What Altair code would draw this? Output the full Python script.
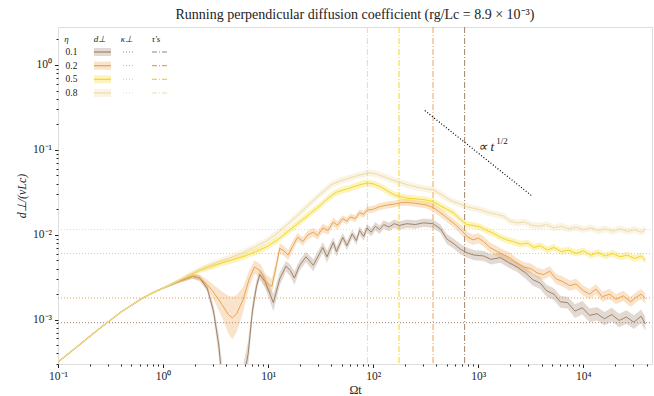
import altair as alt
import numpy as np
import pandas as pd

# ---------------- data ----------------
etas = ["0.1", "0.2", "0.5", "0.8"]
colors = ["#a0846a", "#eba350", "#f5d623", "#eedba6"]
kappa = [9.2e-4, 1.8e-3, 6.0e-3, 1.15e-2]      # horizontal dotted levels
tau = [741, 371, 176, 88]                      # vertical dash-dot times

xtick_vals = [0.1, 1, 10, 100, 1000, 10000]
xtick_labels = ["10⁻¹", "10⁰", "10¹", "10²", "10³", "10⁴"]
ytick_vals = [1e-3, 1e-2, 1e-1, 1]
ytick_labels = ["10⁻³", "10⁻²", "10⁻¹", "10⁰"]

# log10(t), log10(d), log10 half-width of shaded band
lt_01 = [-1.0, -0.8, -0.6, -0.4, -0.2, -0.1, 0.0, 0.15, 0.28, 0.35, 0.42,
         0.48, 0.53, 0.56, 0.60, 0.70, 0.76, 0.81, 0.85, 0.89, 0.92,
         0.97, 1.05, 1.11, 1.17, 1.21, 1.25, 1.30, 1.36, 1.43, 1.52,
         1.56, 1.62, 1.65, 1.71, 1.75, 1.80, 1.84, 1.87, 1.91, 1.94,
         1.98, 2.02, 2.06, 2.10, 2.15, 2.20, 2.25, 2.32, 2.40, 2.48,
         2.57, 2.64, 2.70, 2.76, 2.83, 2.89, 2.96, 3.05, 3.12, 3.21,
         3.29, 3.37, 3.45, 3.52, 3.59, 3.65, 3.72, 3.78, 3.85, 3.92,
         3.99, 4.06, 4.13, 4.20, 4.27, 4.34, 4.41, 4.48, 4.55, 4.59]
ld_01 = [-3.50, -3.30, -3.10, -2.91, -2.75, -2.685, -2.63, -2.55, -2.49, -2.51, -2.63,
         -2.90, -3.30, -3.70, -5.0, -5.0, -3.75, -3.40, -2.90, -2.60, -2.47,
         -2.55, -2.80, -2.52, -2.37, -2.42, -2.51, -2.36, -2.26, -2.36, -2.15,
         -2.26, -2.09, -2.20, -2.03, -2.13, -1.99, -2.07, -1.95, -2.02, -1.92,
         -1.97, -1.90, -1.94, -1.88, -1.91, -1.87, -1.89, -1.87, -1.88, -1.86,
         -1.87, -1.93, -2.05, -2.10, -2.17, -2.21, -2.24, -2.25, -2.29, -2.27,
         -2.33, -2.38, -2.45, -2.53, -2.57, -2.66, -2.70, -2.79, -2.80, -2.90,
         -2.86, -2.95, -2.93, -2.99, -2.94, -3.01, -2.97, -3.03, -2.96, -3.05]
w_01 = [0.01, 0.01, 0.01, 0.01, 0.01, 0.01, 0.01, 0.02, 0.03, 0.03, 0.04,
        0.07, 0.12, 0.20, 0.30, 0.30, 0.20, 0.15, 0.10, 0.07, 0.06,
        0.07, 0.10, 0.08, 0.06, 0.07, 0.08, 0.06, 0.06, 0.07, 0.06,
        0.07, 0.06, 0.06, 0.05, 0.06, 0.05, 0.05, 0.05, 0.05, 0.05,
        0.05, 0.05, 0.05, 0.05, 0.05, 0.05, 0.05, 0.05, 0.05, 0.05,
        0.05, 0.05, 0.06, 0.06, 0.06, 0.06, 0.06, 0.06, 0.06, 0.06,
        0.06, 0.06, 0.07, 0.07, 0.07, 0.07, 0.07, 0.07, 0.07, 0.08,
        0.08, 0.08, 0.08, 0.08, 0.08, 0.08, 0.08, 0.08, 0.08, 0.08]

lt_02 = [-1.0, -0.8, -0.6, -0.4, -0.2, -0.1, 0.0, 0.15, 0.28, 0.35, 0.42,
         0.47, 0.56, 0.62, 0.66, 0.70, 0.76, 0.82, 0.87, 0.93, 0.98,
         1.035, 1.08, 1.11, 1.15, 1.19, 1.24, 1.28, 1.33, 1.38, 1.43,
         1.47, 1.52, 1.57, 1.62, 1.66, 1.71, 1.75, 1.78, 1.83, 1.87,
         1.91, 1.94, 2.00, 2.06, 2.13, 2.20, 2.27, 2.32, 2.40, 2.51,
         2.57, 2.64, 2.70, 2.78, 2.85, 2.90, 2.95, 3.00, 3.05, 3.11,
         3.17, 3.23, 3.30, 3.36, 3.43, 3.50, 3.56, 3.62, 3.68, 3.74,
         3.80, 3.87, 3.93, 4.00, 4.06, 4.12, 4.18, 4.25, 4.31, 4.38,
         4.45, 4.51, 4.55, 4.59]
ld_02 = [-3.50, -3.30, -3.10, -2.91, -2.75, -2.685, -2.63, -2.55, -2.49, -2.51, -2.59,
         -2.66, -2.82, -2.94, -2.98, -2.93, -2.77, -2.52, -2.38, -2.43, -2.56,
         -2.61, -2.35, -2.16, -2.19, -2.24, -2.12, -2.03, -2.08, -2.00, -1.97,
         -2.01, -1.92, -1.95, -1.85, -1.89, -1.81, -1.84, -1.79, -1.81, -1.74,
         -1.76, -1.71, -1.70, -1.67, -1.65, -1.64, -1.62, -1.62, -1.63, -1.65,
         -1.68, -1.74, -1.80, -1.88, -1.96, -2.03, -2.06, -2.04, -2.08, -2.15,
         -2.19, -2.23, -2.27, -2.33, -2.38, -2.40, -2.45, -2.47, -2.43, -2.52,
         -2.55, -2.60, -2.58, -2.66, -2.70, -2.64, -2.73, -2.70, -2.76, -2.72,
         -2.79, -2.73, -2.70, -2.75]
w_02 = [0.01, 0.01, 0.01, 0.01, 0.01, 0.01, 0.01, 0.02, 0.03, 0.04, 0.06,
        0.08, 0.15, 0.22, 0.25, 0.22, 0.15, 0.10, 0.08, 0.08, 0.09,
        0.09, 0.07, 0.06, 0.06, 0.06, 0.06, 0.05, 0.05, 0.05, 0.05,
        0.05, 0.05, 0.05, 0.05, 0.05, 0.04, 0.04, 0.04, 0.04, 0.04,
        0.04, 0.04, 0.04, 0.04, 0.04, 0.04, 0.04, 0.04, 0.04, 0.04,
        0.05, 0.05, 0.05, 0.05, 0.06, 0.06, 0.06, 0.06, 0.06, 0.06,
        0.06, 0.06, 0.06, 0.06, 0.06, 0.06, 0.06, 0.06, 0.06, 0.06,
        0.06, 0.06, 0.06, 0.06, 0.06, 0.06, 0.06, 0.06, 0.06, 0.06,
        0.06, 0.06, 0.06, 0.06]

lt_05 = [-1.0, -0.8, -0.6, -0.4, -0.2, -0.1, 0.0, 0.15, 0.25, 0.35, 0.45,
         0.55, 0.66, 0.78, 0.88, 0.99, 1.10, 1.20, 1.30, 1.40, 1.50,
         1.58, 1.65, 1.72, 1.78, 1.85, 1.94, 2.00, 2.06, 2.13, 2.20,
         2.25, 2.33, 2.42, 2.50, 2.57, 2.64, 2.70, 2.76, 2.83, 2.89,
         2.95, 3.02, 3.08, 3.14, 3.21, 3.27, 3.33, 3.40, 3.47, 3.53,
         3.59, 3.66, 3.72, 3.79, 3.86, 3.93, 4.00, 4.07, 4.14, 4.21,
         4.28, 4.35, 4.42, 4.49, 4.55, 4.59]
ld_05 = [-3.50, -3.30, -3.10, -2.91, -2.75, -2.685, -2.63, -2.54, -2.48, -2.42, -2.375,
         -2.335, -2.295, -2.25, -2.20, -2.14, -2.05, -1.95, -1.85, -1.75, -1.65,
         -1.56, -1.50, -1.47, -1.45, -1.42, -1.39, -1.40, -1.43, -1.48, -1.53,
         -1.55, -1.57, -1.58, -1.59, -1.61, -1.66, -1.70, -1.74, -1.82, -1.88,
         -1.89, -1.91, -1.95, -1.98, -2.03, -2.06, -2.08, -2.11, -2.10, -2.15,
         -2.13, -2.18, -2.15, -2.20, -2.18, -2.22, -2.19, -2.24, -2.21, -2.25,
         -2.22, -2.26, -2.24, -2.28, -2.25, -2.30]
w_05 = [0.01, 0.01, 0.01, 0.01, 0.01, 0.01, 0.01, 0.02, 0.03, 0.03, 0.04,
        0.04, 0.04, 0.04, 0.04, 0.04, 0.04, 0.04, 0.04, 0.04, 0.04,
        0.04, 0.04, 0.04, 0.04, 0.04, 0.04, 0.04, 0.04, 0.04, 0.04,
        0.04, 0.04, 0.04, 0.04, 0.04, 0.04, 0.04, 0.04, 0.04, 0.04,
        0.04, 0.04, 0.04, 0.04, 0.04, 0.04, 0.04, 0.04, 0.04, 0.04,
        0.04, 0.04, 0.04, 0.04, 0.04, 0.04, 0.04, 0.04, 0.04, 0.04,
        0.04, 0.04, 0.04, 0.04, 0.04, 0.04]

lt_08 = [-1.0, -0.8, -0.6, -0.4, -0.2, -0.1, 0.0, 0.15, 0.25, 0.35, 0.45,
         0.55, 0.66, 0.78, 0.88, 0.99, 1.10, 1.20, 1.30, 1.40, 1.50,
         1.60, 1.70, 1.78, 1.86, 1.97, 2.04, 2.13, 2.22, 2.32, 2.42,
         2.50, 2.57, 2.64, 2.70, 2.76, 2.83, 2.89, 2.96, 3.03, 3.10,
         3.17, 3.24, 3.30, 3.37, 3.44, 3.51, 3.58, 3.65, 3.72, 3.79,
         3.86, 3.93, 4.00, 4.07, 4.14, 4.21, 4.28, 4.35, 4.42, 4.49,
         4.55, 4.59]
ld_08 = [-3.50, -3.30, -3.10, -2.91, -2.75, -2.685, -2.63, -2.54, -2.47, -2.41, -2.36,
         -2.31, -2.26, -2.20, -2.14, -2.07, -1.97, -1.86, -1.75, -1.63, -1.52,
         -1.41, -1.36, -1.33, -1.30, -1.27, -1.29, -1.33, -1.37, -1.41, -1.44,
         -1.46, -1.47, -1.52, -1.57, -1.61, -1.64, -1.67, -1.69, -1.71, -1.74,
         -1.76, -1.78, -1.84, -1.86, -1.85, -1.89, -1.90, -1.88, -1.92, -1.90,
         -1.93, -1.91, -1.94, -1.92, -1.95, -1.93, -1.96, -1.93, -1.96, -1.94,
         -1.97, -1.94]
w_08 = [0.01, 0.01, 0.01, 0.01, 0.01, 0.01, 0.01, 0.02, 0.03, 0.03, 0.04,
        0.04, 0.04, 0.04, 0.04, 0.04, 0.04, 0.04, 0.04, 0.04, 0.04,
        0.04, 0.04, 0.04, 0.04, 0.04, 0.04, 0.04, 0.04, 0.04, 0.04,
        0.04, 0.04, 0.04, 0.04, 0.04, 0.04, 0.04, 0.04, 0.04, 0.04,
        0.04, 0.04, 0.04, 0.04, 0.04, 0.04, 0.04, 0.04, 0.04, 0.04,
        0.04, 0.04, 0.04, 0.04, 0.04, 0.04, 0.04, 0.04, 0.04, 0.04,
        0.04, 0.04]

# power-law guide
pl_t = [310, 3200]
pl_d = [0.29, 0.029]

# ---------------- build tables ----------------
def series(eta, lt, ld, w):
    lt, ld, w = np.array(lt), np.array(ld), np.array(w)
    return pd.DataFrame({"eta": eta, "t": 10 ** lt, "d": 10 ** ld,
                         "lo": 10 ** (ld - w), "hi": 10 ** (ld + w)})

df = pd.concat([series("0.1", lt_01, ld_01, w_01),
                series("0.2", lt_02, ld_02, w_02),
                series("0.5", lt_05, ld_05, w_05),
                series("0.8", lt_08, ld_08, w_08)], ignore_index=True)
ref = pd.DataFrame({"eta": etas, "kappa": kappa, "tau": tau, "row": [0, 1, 2, 3]})
pl = pd.DataFrame({"t": pl_t, "d": pl_d})

X_DOM = [0.1, 4.5e4]
Y_DOM = [3.0e-4, 2.8]
W, H = 594, 337
FONT = "Liberation Serif"

def lab_expr(vals, labs):
    e = "round(log(datum.value)/LN10)"
    s = "''"
    for v, l in zip(vals, labs):
        s = f"({e} == {int(round(np.log10(v)))} ? '{l}' : {s})"
    return s

xs = alt.Scale(type="log", domain=X_DOM, nice=False)
ys = alt.Scale(type="log", domain=Y_DOM, nice=False)
cs = alt.Scale(domain=etas, range=colors)

x_minor = [m * 10.0 ** k for k in range(-1, 5) for m in range(2, 10) if m * 10.0 ** k <= X_DOM[1]]
y_minor = [m * 10.0 ** k for k in range(-4, 1) for m in range(2, 10) if Y_DOM[0] <= m * 10.0 ** k <= Y_DOM[1]]

x_major_axis = alt.Axis(values=xtick_vals, labelExpr=lab_expr(xtick_vals, xtick_labels),
                        title="Ωt", orient="bottom", tickSize=3.5, tickColor="#222", domain=False,
                        grid=False, labelFont=FONT, labelFontSize=11.5, labelColor="#222",
                        titleFont=FONT, titleFontSize=12, titleFontWeight="normal", titleColor="#222",
                        labelPadding=3, titlePadding=2, labelFlush=False)
y_major_axis = alt.Axis(values=ytick_vals, labelExpr=lab_expr(ytick_vals, ytick_labels),
                        title="d⊥/(vLc)", orient="left", tickSize=3.5, tickColor="#222", domain=False,
                        grid=False, labelFont=FONT, labelFontSize=11.5, labelColor="#222",
                        titleFont=FONT, titleFontSize=12, titleFontWeight="normal", titleColor="#222",
                        titleFontStyle="italic", labelPadding=3, titlePadding=4, labelFlush=False)
x_minor_axis = alt.Axis(values=x_minor, labels=False, title=None, orient="bottom", tickSize=2,
                        tickColor="#222", domain=False, grid=False)
y_minor_axis = alt.Axis(values=y_minor, labels=False, title=None, orient="left", tickSize=2,
                        tickColor="#222", domain=False, grid=False)

kappa_rules = alt.Chart(ref).mark_rule(strokeDash=[1, 2], strokeWidth=1).encode(
    y=alt.Y("kappa:Q", scale=ys, axis=y_major_axis),
    x=alt.value(0), x2=alt.value(W),
    color=alt.Color("eta:N", scale=cs, legend=None))

tau_rules = alt.Chart(ref).mark_rule(strokeDash=[6, 2, 1, 2], strokeWidth=1).encode(
    x=alt.X("tau:Q", scale=xs, axis=x_major_axis),
    color=alt.Color("eta:N", scale=cs, legend=None))

minor_ticks = alt.Chart(pd.DataFrame({"v": [1.0]})).mark_point(opacity=0).encode(
    x=alt.X("v:Q", scale=xs, axis=x_minor_axis),
    y=alt.Y("v:Q", scale=ys, axis=y_minor_axis))

bands = alt.Chart(df).mark_area(opacity=0.3, clip=True).encode(
    x=alt.X("t:Q", scale=xs, axis=None),
    y=alt.Y("lo:Q", scale=ys, axis=None), y2="hi:Q",
    color=alt.Color("eta:N", scale=cs, legend=None),
    detail="eta:N")

lines = alt.Chart(df).mark_line(strokeWidth=1, clip=True).encode(
    x=alt.X("t:Q", scale=xs, axis=None),
    y=alt.Y("d:Q", scale=ys, axis=None),
    color=alt.Color("eta:N", scale=cs, legend=None),
    detail="eta:N")

guide = alt.Chart(pl).mark_line(strokeDash=[1, 2], strokeWidth=1.2, color="black").encode(
    x=alt.X("t:Q", scale=xs, axis=None),
    y=alt.Y("d:Q", scale=ys, axis=None))

guide_txt = alt.Chart(pd.DataFrame({"t": [1000], "d": [0.108], "s": ["∝ t"]})).mark_text(
    align="left", baseline="middle", font=FONT, fontSize=13, fontStyle="italic", color="#222").encode(
    x=alt.X("t:Q", scale=xs, axis=None), y=alt.Y("d:Q", scale=ys, axis=None), text="s:N")
guide_sup = alt.Chart(pd.DataFrame({"t": [1480], "d": [0.127], "s": ["1/2"]})).mark_text(
    align="left", baseline="middle", font=FONT, fontSize=9, color="#222").encode(
    x=alt.X("t:Q", scale=xs, axis=None), y=alt.Y("d:Q", scale=ys, axis=None), text="s:N")

# ---------------- legend table ----------------
rowy = alt.Y("row:Q", scale=alt.Scale(domain=[0, 3], range=[25, 66]), axis=None)
leg_col = alt.Color("eta:N", scale=cs, legend=None)

def header(txt, x):
    return alt.Chart(pd.DataFrame({"s": [txt]})).mark_text(
        font=FONT, fontSize=9, fontStyle="italic", color="#222",
        align="center", baseline="middle").encode(x=alt.value(x), y=alt.value(12), text="s:N")

leg_labels = alt.Chart(ref).mark_text(font=FONT, fontSize=9.5, color="#222", align="center",
                                      baseline="middle").encode(
    x=alt.value(13.5), y=rowy, text="eta:N")
leg_band = alt.Chart(ref).mark_rule(strokeWidth=8, opacity=0.3, strokeCap="butt").encode(
    x=alt.value(36), x2=alt.value(53), y=rowy, color=leg_col)
leg_line = alt.Chart(ref).mark_rule(strokeWidth=1.2).encode(
    x=alt.value(36), x2=alt.value(53), y=rowy, color=leg_col)
leg_kappa = alt.Chart(ref).mark_rule(strokeWidth=1, strokeDash=[1, 2]).encode(
    x=alt.value(65), x2=alt.value(76), y=rowy, color=leg_col)
leg_tau = alt.Chart(ref).mark_rule(strokeWidth=1.2, strokeDash=[5, 2, 1, 2]).encode(
    x=alt.value(94), x2=alt.value(110), y=rowy, color=leg_col)

chart = alt.layer(
    minor_ticks, kappa_rules, tau_rules, bands, lines, guide, guide_txt, guide_sup,
    header("η", 8.5), header("d⊥", 42), header("κ⊥", 69), header("τ′s", 98),
    leg_labels, leg_band, leg_line, leg_kappa, leg_tau
).resolve_scale(x="independent", y="independent").properties(
    width=W, height=H,
    autosize=alt.AutoSizeParams(type="none"),
    padding={"left": 58, "top": 27, "right": 2, "bottom": 32},
    title=alt.TitleParams(
        "Running perpendicular diffusion coefficient (rg/Lc = 8.9 × 10⁻³)",
        font=FONT, fontSize=14, fontWeight="normal", color="#222", anchor="middle", offset=5),
).configure_view(stroke="#222", strokeWidth=1.2).configure(background="white")

chart.save("out.html", embed_options={"renderer": "svg", "actions": False})
